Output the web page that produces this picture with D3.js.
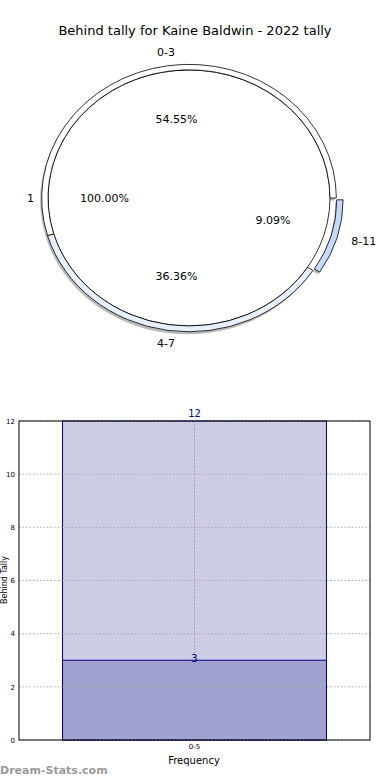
<!DOCTYPE html>
<html>
<head>
<meta charset="utf-8">
<script src="https://cdn.jsdelivr.net/npm/d3@7"></script>
<style>
  body { margin: 0; background: #fff; }
  text { font-family: "DejaVu Sans", sans-serif; }
</style>
</head>
<body>
<script>
// Data
const innerLabels = ["1"];
const innerValues = [12];
const innerPct = ["100.00%"];
const outerLabels = ["0-3", "4-7", "8-11"];
const outerValues = [6, 4, 1];
const outerPct = ["54.55%", "36.36%", "9.09%"];

const barCategories = ["0-5"];
const barTotals = [12];
const barBehind = [3];
const yTicks = [0, 2, 4, 6, 8, 10, 12];

const width = 390;
const height = 780;

const svg = d3.select("body")
  .append("svg")
  .attr("width", width)
  .attr("height", height);

// Title
svg.append("text")
  .attr("x", 195)
  .attr("y", 35)
  .attr("text-anchor", "middle")
  .style("font-size", "13px")
  .text("Behind tally for Kaine Baldwin - 2022 tally");

// ---- Pie (squashed into an ellipse) ----
const cx = 189, cy = 198, rx = 141, ry = 128;
const ringOuter = 1.045;

// start at 3 o'clock, go counter-clockwise
const pie = d3.pie().sort(null)
  .startAngle(Math.PI / 2)
  .endAngle(Math.PI / 2 - 2 * Math.PI);

const innerArcs = pie(innerValues);
const outerArcs = pie(outerValues);
const outerFill = ["#ffffff", "#e8f0fd", "#c6d9f9"];
const outerExplode = [0, 0, 0.05];

const innerArc = d3.arc().innerRadius(0).outerRadius(1);
const ringArc = d3.arc().innerRadius(1).outerRadius(ringOuter);

// d3 angle -> unit x,y
const mid = d => (d.startAngle + d.endAngle) / 2;
const ux = a => Math.sin(a);
const uy = a => -Math.cos(a);
const shift = (d, i) => `translate(${outerExplode[i] * ux(mid(d))},${outerExplode[i] * uy(mid(d))})`;

const pieG = svg.append("g")
  .attr("transform", `translate(${cx},${cy}) scale(${rx},${ry})`);

// shadow
const shadow = pieG.append("g")
  .attr("transform", `translate(${-1.5 / rx},${2.5 / ry})`)
  .attr("opacity", 0.5);
shadow.selectAll("path.s1")
  .data(innerArcs)
  .enter().append("path")
  .attr("d", innerArc)
  .attr("fill", "#777");
shadow.selectAll("path.s2")
  .data(outerArcs)
  .enter().append("path")
  .attr("transform", shift)
  .attr("d", ringArc)
  .attr("fill", "#777");

pieG.selectAll("path.inner")
  .data(innerArcs)
  .enter().append("path")
  .attr("class", "inner")
  .attr("d", innerArc)
  .attr("fill", "#ffffff")
  .attr("stroke", "#000")
  .attr("stroke-width", 0.8)
  .attr("vector-effect", "non-scaling-stroke");

pieG.selectAll("path.outer")
  .data(outerArcs)
  .enter().append("path")
  .attr("class", "outer")
  .attr("transform", shift)
  .attr("d", ringArc)
  .attr("fill", (d, i) => outerFill[i])
  .attr("stroke", "#000")
  .attr("stroke-width", 0.8)
  .attr("vector-effect", "non-scaling-stroke");

// pie labels
const pieText = svg.append("g").style("font-size", "11px");

innerArcs.forEach((d, i) => {
  const a = mid(d);
  pieText.append("text")
    .attr("x", cx + rx * 1.1 * ux(a))
    .attr("y", cy + ry * 1.1 * uy(a))
    .attr("dy", "0.35em")
    .attr("text-anchor", "end")
    .text(innerLabels[i]);
  pieText.append("text")
    .attr("x", cx + rx * 0.6 * ux(a))
    .attr("y", cy + ry * 0.6 * uy(a))
    .attr("dy", "0.35em")
    .attr("text-anchor", "middle")
    .text(innerPct[i]);
});

outerArcs.forEach((d, i) => {
  const a = mid(d);
  const r = ringOuter * 1.1 + outerExplode[i];
  const x = ux(a);
  pieText.append("text")
    .attr("x", cx + rx * r * x)
    .attr("y", cy + ry * r * uy(a))
    .attr("dy", "0.35em")
    .attr("text-anchor", Math.abs(x) < 0.5 ? "middle" : (x > 0 ? "start" : "end"))
    .text(outerLabels[i]);
  pieText.append("text")
    .attr("x", cx + rx * 0.62 * ux(a))
    .attr("y", cy + ry * 0.62 * uy(a))
    .attr("dy", "0.35em")
    .attr("text-anchor", "middle")
    .text(outerPct[i]);
});

// ---- Bar chart ----
const margin = { top: 421, right: 20, left: 19 };
const plotBottom = 740;

const xScale = d3.scaleBand()
  .domain(barCategories)
  .range([margin.left, width - margin.right])
  .paddingInner(0)
  .paddingOuter(0.165);

const yScale = d3.scaleLinear()
  .domain([0, 12])
  .range([plotBottom, margin.top]);

const barX = (d, i) => xScale(barCategories[i]);
const barMid = (d, i) => xScale(barCategories[i]) + xScale.bandwidth() / 2;

// back bars (totals)
svg.selectAll(".bar-total")
  .data(barTotals)
  .enter().append("rect")
  .attr("class", "bar-total")
  .attr("x", barX)
  .attr("y", d => yScale(d))
  .attr("width", xScale.bandwidth())
  .attr("height", d => plotBottom - yScale(d))
  .attr("fill", "#cccce4")
  .attr("stroke", "#00008b")
  .attr("stroke-width", 1);

// front bars (behind)
svg.selectAll(".bar-behind")
  .data(barBehind)
  .enter().append("rect")
  .attr("class", "bar-behind")
  .attr("x", barX)
  .attr("y", d => yScale(d))
  .attr("width", xScale.bandwidth())
  .attr("height", d => plotBottom - yScale(d))
  .attr("fill", "#a2a2d0")
  .attr("stroke", "#00008b")
  .attr("stroke-width", 1);

// grid
svg.append("g")
  .selectAll("line")
  .data(yTicks)
  .enter().append("line")
  .attr("x1", margin.left)
  .attr("x2", width - margin.right)
  .attr("y1", d => yScale(d))
  .attr("y2", d => yScale(d))
  .attr("stroke", "#aaaaaa")
  .attr("stroke-dasharray", "1.5,2");

svg.append("g")
  .selectAll("line")
  .data(barCategories)
  .enter().append("line")
  .attr("x1", d => xScale(d) + xScale.bandwidth() / 2)
  .attr("x2", d => xScale(d) + xScale.bandwidth() / 2)
  .attr("y1", margin.top)
  .attr("y2", plotBottom)
  .attr("stroke", "#999999")
  .attr("stroke-dasharray", "1.5,2");

// value labels
svg.selectAll(".lbl-total")
  .data(barTotals)
  .enter().append("text")
  .attr("x", barMid)
  .attr("y", d => yScale(d) - 4)
  .attr("text-anchor", "middle")
  .attr("fill", "#00008b")
  .style("font-size", "10px")
  .text(d => d);

svg.selectAll(".lbl-behind")
  .data(barBehind)
  .enter().append("text")
  .attr("x", barMid)
  .attr("y", d => yScale(d) + 2)
  .attr("text-anchor", "middle")
  .attr("fill", "#00008b")
  .style("font-size", "10px")
  .text(d => d);

// axes
const yAxis = d3.axisLeft(yScale).tickValues(yTicks).tickSize(0).tickPadding(4);
const xAxis = d3.axisBottom(xScale).tickSize(0).tickPadding(4);

svg.append("g")
  .attr("transform", `translate(${margin.left},0)`)
  .call(yAxis)
  .call(g => g.select(".domain").remove())
  .selectAll("text")
  .style("font-size", "7px")
  .style("font-family", "DejaVu Sans");

svg.append("g")
  .attr("transform", `translate(0,${plotBottom})`)
  .call(xAxis)
  .call(g => g.select(".domain").remove())
  .selectAll("text")
  .style("font-size", "7px")
  .style("font-family", "DejaVu Sans");

// frame
svg.append("rect")
  .attr("x", margin.left)
  .attr("y", margin.top)
  .attr("width", width - margin.right - margin.left)
  .attr("height", plotBottom - margin.top)
  .attr("fill", "none")
  .attr("stroke", "#000")
  .attr("stroke-width", 1);

// axis labels
svg.append("text")
  .attr("x", 194)
  .attr("y", 764)
  .attr("text-anchor", "middle")
  .style("font-size", "10px")
  .text("Frequency");

svg.append("text")
  .attr("transform", "rotate(-90)")
  .attr("x", -580)
  .attr("y", 7)
  .attr("text-anchor", "middle")
  .style("font-size", "8px")
  .text("Behind Tally");

// watermark
svg.append("text")
  .attr("x", 0)
  .attr("y", 774)
  .attr("fill", "#9a9a9a")
  .style("font-size", "11px")
  .style("font-weight", "bold")
  .text("Dream-Stats.com");
</script>
</body>
</html>
